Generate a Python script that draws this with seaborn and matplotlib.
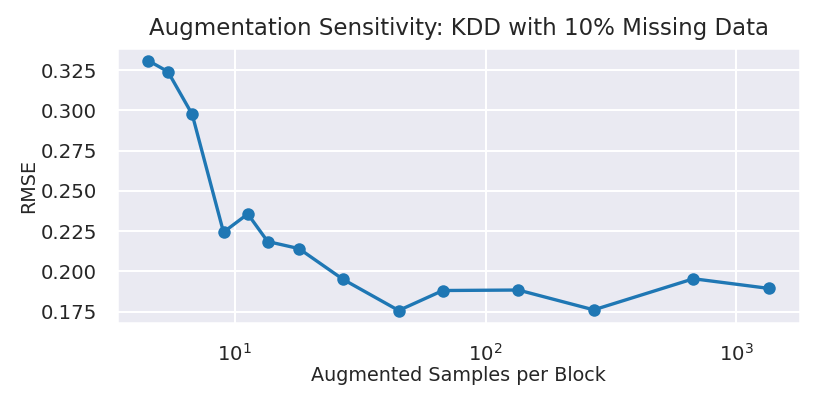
import matplotlib
matplotlib.use("Agg")
import matplotlib.pyplot as plt
from matplotlib.ticker import MultipleLocator, FormatStrFormatter
import seaborn as sns
import pandas as pd

samples = [4.5, 5.4, 6.75, 9, 11.25, 13.5, 18, 27, 45, 67.5, 135, 270, 675, 1350]
rmse = [0.3309, 0.3240, 0.2975, 0.2244, 0.2357, 0.2186, 0.2142, 0.1951, 0.1758,
        0.1882, 0.1885, 0.1762, 0.1955, 0.1895]

sns.set_theme(style="darkgrid")
df = pd.DataFrame({"samples": samples, "rmse": rmse})

fig, ax = plt.subplots(figsize=(822/150, 411/150), dpi=150)
sns.lineplot(data=df, x="samples", y="rmse", marker="o", markersize=6,
             markeredgewidth=0, color="#1f77b4", linewidth=1.6, ax=ax)
ax.set_xscale("log")
ax.yaxis.set_major_locator(MultipleLocator(0.025))
ax.yaxis.set_major_formatter(FormatStrFormatter("%.3f"))
ax.set_xlabel("Augmented Samples per Block", fontsize=9.2, labelpad=0.8)
ax.set_ylabel("RMSE", fontsize=9.2, labelpad=1.2)
ax.set_title("Augmentation Sensitivity: KDD with 10% Missing Data", fontsize=11)
ax.tick_params(labelsize=9.5)
fig.subplots_adjust(left=117/822, right=800/822, top=1-48/411, bottom=1-323/411)
fig.savefig("out.png", dpi=150)
